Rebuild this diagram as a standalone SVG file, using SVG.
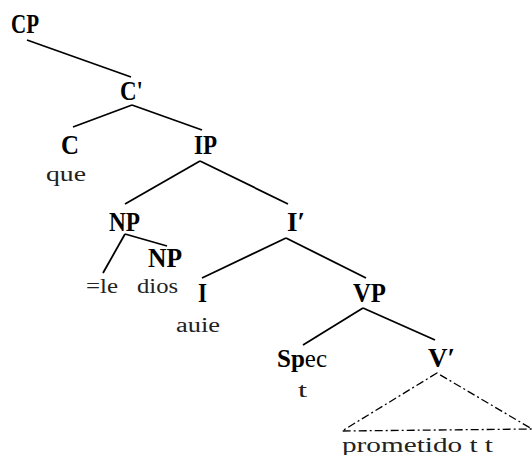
<svg xmlns="http://www.w3.org/2000/svg" width="532" height="455" viewBox="0 0 532 455">
<style>
text{font-family:'Liberation Serif','DejaVu Serif',serif}
.b{font-weight:bold;font-size:27px;fill:#000}
.r{font-weight:normal;font-size:20px;fill:#222}
.n{font-weight:normal}
.e{stroke:#000;stroke-width:1.8;fill:none}
.d{stroke:#000;stroke-width:1.3;fill:none;stroke-dasharray:8 3 2 3}
</style>
<rect width="532" height="455" fill="#fff"/>
<g id="connectors">
<line class="e" x1="27" y1="40" x2="131" y2="77"/>
<line class="e" x1="132" y1="105" x2="73" y2="127"/>
<line class="e" x1="132" y1="105" x2="202" y2="130"/>
<line class="e" x1="200" y1="161" x2="125" y2="204"/>
<line class="e" x1="200" y1="161" x2="288" y2="204"/>
<line class="e" x1="125" y1="234" x2="103" y2="273"/>
<line class="e" x1="125" y1="234" x2="167" y2="246"/>
<line class="e" x1="286" y1="238" x2="202" y2="278"/>
<line class="e" x1="286" y1="238" x2="366" y2="278"/>
<line class="e" x1="363" y1="308" x2="303" y2="345"/>
<line class="e" x1="363" y1="308" x2="435" y2="340"/>
<path class="d" d="M437 373 L342 431 L532 429 Z"/>
</g>
<g id="CP"><text class="b" x="11" y="33" textLength="28" lengthAdjust="spacingAndGlyphs">CP</text></g>
<g id="Cbar"><text class="b" x="120" y="100" textLength="23" lengthAdjust="spacingAndGlyphs">C'</text></g>
<g id="C"><text class="b" x="61" y="154" textLength="18" lengthAdjust="spacingAndGlyphs">C</text>
<text class="r" x="46" y="181" textLength="40" lengthAdjust="spacingAndGlyphs">que</text></g>
<g id="IP"><text class="b" x="194" y="154" textLength="23" lengthAdjust="spacingAndGlyphs">IP</text></g>
<g id="NP"><text class="b" x="109" y="231" textLength="31" lengthAdjust="spacingAndGlyphs">NP</text>
<text class="r" x="86" y="293" textLength="32" lengthAdjust="spacingAndGlyphs">=le</text></g>
<g id="NP2"><text class="b" x="148" y="267" textLength="34" lengthAdjust="spacingAndGlyphs">NP</text>
<text class="r" x="137" y="293" textLength="41" lengthAdjust="spacingAndGlyphs">dios</text></g>
<g id="Ibar"><text class="b" x="287" y="231">I′</text></g>
<g id="I"><text class="b" x="198" y="302" textLength="9" lengthAdjust="spacingAndGlyphs">I</text>
<text class="r" x="176" y="332" textLength="44" lengthAdjust="spacingAndGlyphs">auie</text></g>
<g id="VP"><text class="b" x="353" y="302" textLength="33" lengthAdjust="spacingAndGlyphs">VP</text></g>
<g id="Spec"><text class="b" x="277" y="367" style="font-size:25px">Sp<tspan class="n">ec</tspan></text>
<text class="r" x="298" y="397" textLength="9" lengthAdjust="spacingAndGlyphs">t</text></g>
<g id="Vbar"><text class="b" x="428" y="367">V′</text>
<text class="r" x="342" y="452" textLength="151" lengthAdjust="spacingAndGlyphs">prometido t t</text></g>
</svg>
